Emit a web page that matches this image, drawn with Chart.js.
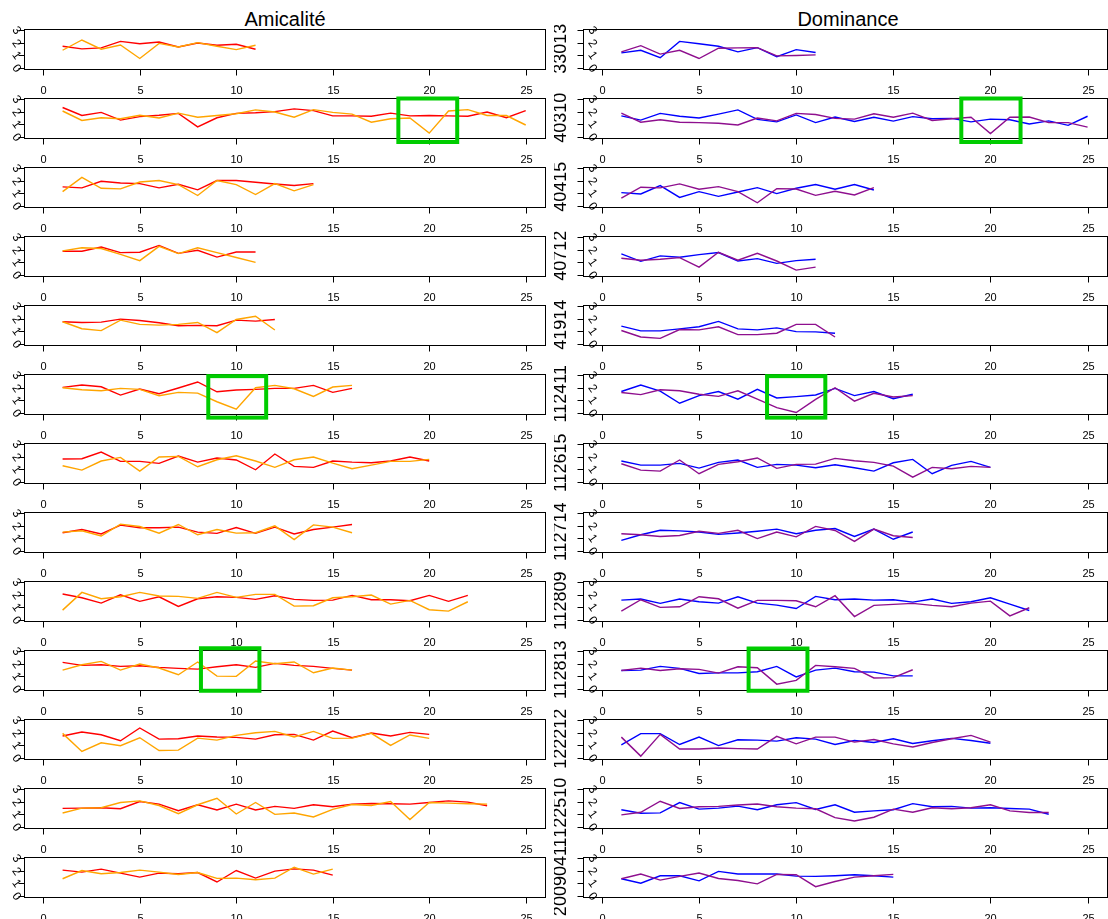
<!DOCTYPE html>
<html>
<head>
<meta charset="utf-8">
<title>Amicalité / Dominance</title>
<script src="https://cdn.jsdelivr.net/npm/chart.js@4.4.1/dist/chart.umd.min.js"></script>
<style>
  html, body { margin: 0; padding: 0; background: #fff; }
  #figure { position: relative; width: 1108px; height: 919px; overflow: hidden; font-family: "Liberation Sans", Arial, sans-serif; }
  #figure canvas { position: absolute; }
  .col-title { position: absolute; top: 9px; width: 400px; font-size: 20px; line-height: 20px; text-align: center; color: #000; }
</style>
</head>
<body>
<div id="figure">
  <div class="col-title" style="left: 85px;">Amicalité</div>
  <div class="col-title" style="left: 648px;">Dominance</div>
</div>
<script>
// tick labels
const xTicks = [0, 5, 10, 15, 20, 25];
const yTicks = [0, 1, 2, 3];

// one row per subject
const subjects = ['33013', '40310', '40415', '40712', '41914', '112411', '112615',
                  '112714', '112809', '112813', '122212', '122510', '20090411'];

// Amicalité - red series
const amicaliteRed = [
    [1.70, 1.49, 1.57, 2.09, 1.90, 2.04, 1.64, 1.96, 1.78, 1.86, 1.46],
    [2.32, 1.68, 1.93, 1.31, 1.59, 1.70, 1.85, 0.77, 1.50, 1.85, 1.90, 1.99, 2.21, 2.07, 1.65, 1.65, 1.62, 1.87, 1.65, 1.68, 1.65, 1.62, 1.96, 1.50, 2.07],
    [1.49, 1.41, 1.94, 1.80, 1.75, 1.41, 1.70, 1.25, 2.00, 2.00, 1.86, 1.72, 1.60, 1.75],
    [1.86, 1.86, 2.20, 1.75, 1.78, 2.33, 1.69, 1.94, 1.39, 1.80, 1.80],
    [1.74, 1.68, 1.71, 1.95, 1.84, 1.66, 1.42, 1.45, 1.42, 1.87, 1.79, 1.92],
    [2.01, 2.20, 2.06, 1.39, 1.88, 1.50, 1.96, 2.44, 1.66, 1.80, 1.85, 1.93, 1.93, 2.17, 1.61, 1.93],
    [1.80, 1.82, 2.36, 1.61, 1.61, 1.45, 2.04, 1.55, 1.88, 1.72, 0.94, 2.20, 1.21, 1.13, 1.64, 1.55, 1.50, 1.64, 1.96, 1.64],
    [1.42, 1.68, 1.32, 2.03, 1.82, 1.82, 1.87, 1.47, 1.37, 1.84, 1.37, 1.87, 1.32, 1.68, 1.87, 2.08],
    [2.04, 1.74, 1.31, 1.98, 1.45, 1.82, 1.05, 1.66, 1.82, 1.77, 1.61, 1.90, 1.61, 1.53, 1.55, 1.93, 1.58, 1.58, 1.50, 1.93, 1.45, 1.93],
    [2.09, 1.85, 1.90, 1.77, 1.82, 1.69, 1.61, 1.55, 1.74, 1.90, 1.69, 2.01, 1.85, 1.77, 1.61, 1.47],
    [1.72, 2.04, 1.82, 1.34, 2.36, 1.47, 1.50, 1.72, 1.64, 1.61, 1.47, 1.82, 1.85, 1.39, 2.12, 1.58, 1.96, 1.72, 2.01, 1.85],
    [1.45, 1.47, 1.50, 1.42, 2.00, 1.79, 1.26, 1.74, 1.32, 1.79, 1.32, 1.61, 1.45, 1.74, 1.58, 1.79, 1.84, 1.82, 1.79, 1.92, 2.05, 1.95, 1.66],
    [2.03, 1.87, 2.11, 1.79, 1.47, 1.79, 1.74, 1.84, 1.08, 2.00, 1.39, 1.95, 2.13, 2.03, 1.63]
];

// Amicalité - orange series
const amicaliteOrange = [
    [1.38, 2.20, 1.46, 1.80, 0.72, 1.93, 1.64, 1.99, 1.70, 1.43, 1.78],
    [2.04, 1.28, 1.50, 1.42, 1.70, 1.48, 1.87, 1.54, 1.68, 1.82, 2.13, 1.96, 1.54, 2.15, 1.93, 1.79, 1.14, 1.42, 1.48, 0.27, 2.04, 2.15, 1.68, 1.68, 0.92],
    [1.11, 2.25, 1.38, 1.33, 1.88, 2.00, 1.67, 0.80, 2.00, 1.67, 0.88, 1.75, 1.17, 1.67],
    [1.89, 2.14, 2.08, 1.61, 1.11, 2.25, 1.67, 2.14, 1.75, 1.36, 0.97],
    [1.74, 1.18, 1.03, 1.87, 1.53, 1.47, 1.53, 1.68, 0.87, 1.92, 2.18, 1.08],
    [1.98, 1.82, 1.74, 1.93, 1.85, 1.34, 1.61, 1.55, 0.86, 0.27, 1.98, 2.17, 1.90, 1.29, 2.04, 2.17],
    [1.26, 0.91, 1.64, 1.93, 0.83, 1.96, 2.01, 1.18, 1.74, 2.06, 1.64, 1.13, 1.74, 1.96, 1.47, 1.02, 1.31, 1.61, 1.61, 1.77],
    [1.47, 1.58, 1.16, 2.11, 1.92, 1.39, 2.08, 1.26, 1.68, 1.39, 1.42, 1.97, 0.87, 2.05, 1.87, 1.42],
    [0.75, 2.17, 1.66, 1.82, 2.17, 1.88, 1.85, 1.69, 2.17, 1.77, 2.01, 2.01, 1.07, 1.10, 1.74, 1.82, 1.96, 1.23, 1.53, 0.78, 0.67, 1.42],
    [1.47, 1.90, 2.17, 1.47, 1.96, 1.64, 1.10, 2.12, 0.99, 0.97, 2.20, 1.98, 2.12, 1.26, 1.64, 1.47],
    [1.93, 0.48, 1.18, 0.94, 1.58, 0.56, 0.59, 1.55, 1.39, 1.77, 1.98, 2.09, 1.64, 2.09, 1.53, 1.55, 1.93, 0.97, 1.80, 1.53],
    [1.08, 1.47, 1.50, 1.92, 2.05, 1.68, 1.03, 1.74, 2.26, 1.00, 1.92, 0.97, 1.08, 0.76, 1.37, 1.76, 1.68, 2.00, 0.55, 1.92, 1.87, 1.82, 1.79],
    [1.34, 2.00, 1.74, 1.84, 2.03, 1.87, 1.68, 1.84, 1.37, 1.39, 1.26, 1.39, 2.26, 1.71, 2.11]
];

// Dominance - blue series
const dominanceBlue = [
    [1.17, 1.38, 0.78, 2.09, 1.90, 1.70, 1.25, 1.59, 0.86, 1.43, 1.20],
    [1.65, 1.31, 1.85, 1.62, 1.48, 1.79, 2.13, 1.37, 1.17, 1.73, 1.11, 1.56, 1.20, 1.54, 1.23, 1.59, 1.42, 1.45, 1.17, 1.39, 1.34, 1.00, 1.25, 0.89, 1.62],
    [1.03, 0.92, 1.59, 0.65, 1.11, 0.73, 1.08, 1.43, 0.95, 1.38, 1.68, 1.30, 1.68, 1.24],
    [1.65, 1.05, 1.49, 1.38, 1.59, 1.76, 1.08, 1.27, 0.89, 1.11, 1.22],
    [1.39, 1.01, 1.01, 1.17, 1.34, 1.77, 1.17, 1.09, 1.25, 0.95, 0.93, 0.82],
    [1.68, 2.20, 1.71, 0.74, 1.35, 1.68, 1.07, 1.85, 1.16, 1.27, 1.40, 1.93, 1.35, 1.68, 1.10, 1.46],
    [1.64, 1.31, 1.31, 1.45, 1.07, 1.53, 1.72, 1.13, 1.37, 1.31, 1.10, 1.34, 1.10, 0.83, 1.50, 1.77, 0.62, 1.29, 1.61, 1.13],
    [0.81, 1.26, 1.62, 1.57, 1.48, 1.29, 1.40, 1.54, 1.71, 1.34, 1.62, 1.76, 1.12, 1.71, 0.90, 1.48],
    [1.55, 1.64, 1.29, 1.64, 1.42, 1.31, 1.82, 1.31, 1.15, 0.88, 1.85, 1.58, 1.64, 1.55, 1.58, 1.39, 1.64, 1.29, 1.42, 1.74, 1.23, 0.72],
    [1.44, 1.47, 1.77, 1.61, 1.20, 1.25, 1.25, 1.34, 1.77, 0.93, 1.47, 1.63, 1.34, 1.31, 1.01, 1.01],
    [1.01, 1.91, 1.91, 1.04, 1.63, 0.95, 1.42, 1.39, 1.31, 1.58, 1.47, 1.04, 1.36, 1.20, 1.50, 1.12, 1.34, 1.53, 1.36, 1.14],
    [1.34, 1.06, 1.09, 1.91, 1.39, 1.47, 1.63, 1.34, 1.74, 1.91, 1.36, 1.74, 1.14, 1.25, 1.34, 1.83, 1.58, 1.61, 1.47, 1.50, 1.44, 1.39, 0.98],
    [1.34, 0.98, 1.58, 1.58, 1.17, 1.93, 1.72, 1.72, 1.72, 1.55, 1.53, 1.58, 1.66, 1.58, 1.47]
];

// Dominance - purple series
const dominancePurple = [
    [1.25, 1.75, 1.07, 1.38, 0.72, 1.54, 1.57, 1.59, 0.93, 0.96, 1.01],
    [1.87, 1.14, 1.34, 1.14, 1.11, 1.06, 0.92, 1.48, 1.25, 1.85, 1.76, 1.45, 1.39, 1.82, 1.54, 1.87, 1.28, 1.42, 1.54, 0.24, 1.54, 1.56, 1.11, 1.11, 0.75],
    [0.59, 1.46, 1.41, 1.73, 1.30, 1.51, 1.11, 0.22, 1.35, 1.32, 0.81, 1.14, 0.84, 1.43],
    [1.30, 1.14, 1.22, 1.35, 0.59, 1.78, 1.14, 1.70, 1.08, 0.35, 0.59],
    [1.04, 0.52, 0.41, 1.12, 1.09, 1.34, 0.71, 0.71, 0.82, 1.53, 1.53, 0.52],
    [1.60, 1.43, 1.82, 1.74, 1.46, 1.29, 1.74, 1.07, 0.39, 0.00, 1.05, 1.98, 0.91, 1.54, 1.24, 1.35],
    [1.42, 0.91, 0.83, 1.72, 0.62, 1.37, 1.58, 1.88, 1.05, 1.37, 1.39, 1.85, 1.66, 1.53, 1.23, 0.35, 1.13, 1.02, 1.21, 1.13],
    [1.34, 1.26, 1.12, 1.20, 1.54, 1.37, 1.62, 0.95, 1.48, 1.09, 1.93, 1.60, 0.73, 1.71, 1.18, 1.04],
    [0.67, 1.58, 0.97, 1.02, 1.82, 1.66, 0.91, 1.53, 1.53, 1.50, 1.02, 1.90, 0.24, 1.13, 1.21, 1.29, 1.13, 1.02, 1.31, 1.47, 0.29, 0.94],
    [1.44, 1.63, 1.44, 1.58, 1.53, 1.23, 1.74, 1.66, 0.35, 0.65, 1.85, 1.74, 1.61, 0.84, 0.87, 1.50],
    [1.63, 0.11, 1.85, 0.68, 0.68, 0.76, 0.71, 0.68, 1.69, 1.09, 1.63, 1.63, 1.23, 1.44, 1.09, 0.84, 1.20, 1.50, 1.77, 1.23],
    [0.93, 1.14, 2.02, 1.44, 1.58, 1.61, 1.72, 1.80, 1.58, 1.47, 1.42, 0.71, 0.44, 0.74, 1.39, 1.14, 1.50, 1.42, 1.50, 1.74, 1.25, 1.12, 1.12],
    [1.34, 1.72, 1.23, 1.53, 1.80, 1.36, 1.20, 0.93, 1.69, 1.66, 0.71, 1.12, 1.47, 1.58, 1.69]
];

// green boxes, in data units of the panel they sit on
const highlights = [
    { panel: 'amicalite', row: 1, x: [18.4, 21.45], y: [-0.44, 3.04] },
    { panel: 'dominance', row: 1, x: [18.5, 21.55], y: [-0.44, 3.04] },
    { panel: 'amicalite', row: 5, x: [8.55, 11.55], y: [-0.41, 2.91] },
    { panel: 'dominance', row: 5, x: [8.5, 11.5], y: [-0.41, 2.91] },
    { panel: 'amicalite', row: 9, x: [8.17, 11.2], y: [-0.18, 3.22] },
    { panel: 'dominance', row: 9, x: [7.55, 10.58], y: [-0.18, 3.2] }
];

const FONT = '"Liberation Sans", Arial, Helvetica, sans-serif';
const ROW_PITCH = 69;
const CANVAS_W = 554;
const CANVAS_H = 96;

const columns = [
    { key: 'amicalite', left: 0, pad: { left: 24, right: 9, top: 24.5, bottom: 31 },
      front: amicaliteOrange, back: amicaliteRed, colors: ['#FFA500', '#FF0000'], yLabelDx: -8, showId: false },
    { key: 'dominance', left: 554, pad: { left: 28.5, right: 1, top: 24.5, bottom: 31 },
      front: dominancePurple, back: dominanceBlue, colors: ['#8E0F8E', '#0000FF'], yLabelDx: 9, showId: true }
];

// R-style box, ticks, labels and the green boxes
const rAxes = {
    id: 'rAxes',
    afterDraw(chart, args, opts) {
        const { ctx, chartArea: a, scales: { x, y } } = chart;
        const left = Math.round(a.left) + 0.5;
        const top = Math.round(a.top) + 0.5;
        const right = Math.round(a.right) + 0.5;
        const bottom = Math.round(a.bottom) + 0.5;

        ctx.save();
        ctx.strokeStyle = '#000';
        ctx.fillStyle = '#000';
        ctx.lineWidth = 1;
        ctx.strokeRect(left, top, right - left, bottom - top);

        ctx.font = `11px ${FONT}`;
        ctx.textAlign = 'center';
        ctx.textBaseline = 'middle';

        xTicks.forEach(v => {
            const px = Math.round(x.getPixelForValue(v)) + 0.5;
            ctx.beginPath();
            ctx.moveTo(px, bottom);
            ctx.lineTo(px, bottom + 6);
            ctx.stroke();
            ctx.fillText(String(v), px, bottom + 21);
        });

        ctx.font = `12px ${FONT}`;
        yTicks.forEach(v => {
            const py = Math.round(y.getPixelForValue(v)) + 0.5;
            ctx.beginPath();
            ctx.moveTo(left - 6, py);
            ctx.lineTo(left, py);
            ctx.stroke();
            ctx.save();
            ctx.translate(left + opts.yLabelDx, py);
            ctx.rotate(55 * Math.PI / 180);
            ctx.fillText(String(v), 0, 0);
            ctx.restore();
        });

        (opts.boxes || []).forEach(h => {
            const x0 = x.getPixelForValue(h.x[0]);
            const x1 = x.getPixelForValue(h.x[1]);
            const y0 = y.getPixelForValue(h.y[1]);
            const y1 = y.getPixelForValue(h.y[0]);
            ctx.strokeStyle = '#00CD00';
            ctx.lineWidth = 4;
            ctx.strokeRect(x0, y0, x1 - x0, y1 - y0);
        });

        if (opts.id) {
            ctx.font = `18px ${FONT}`;
            ctx.translate(7, (a.top + a.bottom) / 2);
            ctx.rotate(-Math.PI / 2);
            ctx.fillText(opts.id, 0, 0);
        }
        ctx.restore();
    }
};

function toPoints(values) {
    return values.map((v, i) => ({ x: i + 1, y: v }));
}

const figure = document.getElementById('figure');

columns.forEach(col => {
    subjects.forEach((id, row) => {
        const canvas = document.createElement('canvas');
        canvas.width = CANVAS_W;
        canvas.height = CANVAS_H;
        canvas.style.left = col.left + 'px';
        canvas.style.top = (4 + row * ROW_PITCH) + 'px';
        figure.appendChild(canvas);

        new Chart(canvas.getContext('2d'), {
            type: 'line',
            data: {
                datasets: [
                    { label: col.key + ' B', data: toPoints(col.front[row]), borderColor: col.colors[0] },
                    { label: col.key + ' A', data: toPoints(col.back[row]), borderColor: col.colors[1] }
                ]
            },
            options: {
                responsive: false,
                animation: false,
                events: [],
                devicePixelRatio: 1,
                layout: { padding: col.pad },
                elements: {
                    point: { radius: 0 },
                    line: { borderWidth: 1.4, tension: 0, fill: false }
                },
                plugins: {
                    legend: { display: false },
                    tooltip: { enabled: false },
                    rAxes: {
                        yLabelDx: col.yLabelDx,
                        id: col.showId ? id : null,
                        boxes: highlights.filter(h => h.panel === col.key && h.row === row)
                    }
                },
                scales: {
                    x: { type: 'linear', min: -1, max: 26, display: false },
                    y: { type: 'linear', min: -0.12, max: 3.12, display: false }
                }
            },
            plugins: [rAxes]
        });
    });
});
</script>
</body>
</html>
